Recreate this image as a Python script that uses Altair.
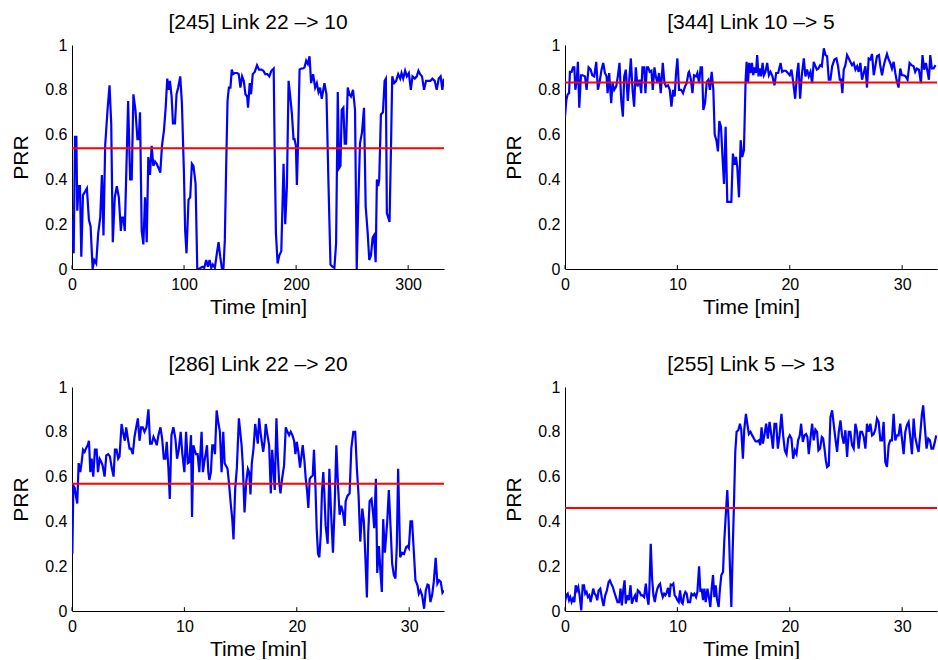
import altair as alt
import pandas as pd

FONT = "Liberation Sans"

titles = ["[245] Link 22 –> 10", "[344] Link 10 –> 5", "[286] Link 22 –> 20", "[255] Link 5 –> 13"]
means = [0.539, 0.833, 0.568, 0.46]
x_max = [332, 33.1, 33.1, 33.1]
x_ticks = [[0, 100, 200, 300], [0, 10, 20, 30], [0, 10, 20, 30], [0, 10, 20, 30]]
y_ticks = [0, 0.2, 0.4, 0.6, 0.8, 1]

# (time, PRR) samples
link_245 = [
    (0.3,0.22),(1.5,0.07),(2.7,0.59),(3.9,0.59),(4.7,0.26),(5.9,0.37),(7.1,0.37),(8.3,0.055),(9.8,0.33),(11.6,0.345),
    (13.3,0.36),(15.1,0.22),(16.6,0.19),(18.4,0.0),(19.9,0.04),(21.6,0.025),(23.4,0.16),(25.2,0.23),(26.7,0.42),(28.1,0.15),
    (29.6,0.55),(31.7,0.71),(33.5,0.82),(35.0,0.65),(36.4,0.12),(38.2,0.32),(40.0,0.37),(41.8,0.32),(43.6,0.17),(44.7,0.23),
    (45.9,0.23),(47.1,0.17),(48.3,0.40),(50.1,0.75),(51.9,0.40),(53.3,0.40),(54.8,0.78),(56.6,0.71),(58.4,0.58),(59.6,0.58),
    (60.7,0.70),(62.2,0.17),(63.7,0.11),(65.2,0.32),(66.7,0.12),(68.1,0.50),(69.6,0.42),(71.1,0.55),(72.6,0.46),(74.1,0.48),
    (75.6,0.47),(77.3,0.45),(78.8,0.43),(80.3,0.55),(82.1,0.62),(83.6,0.72),(85.0,0.85),(86.2,0.80),(87.4,0.84),(88.9,0.77),
    (90.1,0.65),(91.9,0.65),(93.3,0.78),(94.8,0.81),(96.6,0.86),(98.1,0.74),(99.9,0.43),(101.0,0.17),(102.2,0.07),(104.0,0.31),
    (105.5,0.32),(107.0,0.47),(108.4,0.46),
    (110.3,0.38),(111.8,0.0),(113.3,0.0),(116.3,0.01),(118.0,0.005),(119.8,0.04),(121.3,0.01),(122.8,0.04),(124.3,0.005),(125.7,0.02),
    (127.5,0.005),(129.3,0.07),(130.8,0.12),(132.3,0.055),(133.7,0.005),(135.2,0.005),(136.4,0.13),(137.6,0.46),(138.8,0.75),(140.0,0.81),
    (141.4,0.81),(142.6,0.89),(143.8,0.87),(145.3,0.875),(147.4,0.875),(148.8,0.87),(150.3,0.81),(151.8,0.86),(153.3,0.84),(154.8,0.78),
    (156.3,0.77),(157.1,0.72),(158.6,0.83),(159.8,0.78),(161.3,0.87),(163.1,0.88),(165.1,0.91),(166.9,0.89),(169.0,0.89),(170.8,0.885),
    (172.5,0.87),(174.3,0.87),(176.1,0.86),(177.9,0.885),(180.0,0.895),(180.8,0.56),(182.0,0.16),(183.5,0.025),(185.0,0.06),(186.8,0.08),
    (188.8,0.47),(190.3,0.20),(191.8,0.37),(193.3,0.84),(194.8,0.77),(196.3,0.69),(197.7,0.58),(198.6,0.58),(199.8,0.55),(200.7,0.375),
    (201.6,0.53),(203.1,0.89),(204.5,0.895),(206.3,0.895),(207.5,0.90),(209.0,0.93),(210.5,0.915),(212.0,0.95),(213.4,0.83),(215.2,0.87),
    (217.0,0.81),(218.5,0.83),(220.0,0.79),(221.4,0.81),(222.9,0.76),
    (225.3,0.83),(227.1,0.78),(228.9,0.38),(230.7,0.02),(232.4,0.01),(234.2,0.005),(235.7,0.115),(237.2,0.79),(238.4,0.45),(239.6,0.46),
    (240.7,0.71),(242.2,0.72),(243.4,0.56),(244.6,0.56),(246.1,0.81),(247.6,0.78),(249.0,0.77),(250.8,0.80),(252.6,0.71),(254.1,0.0),
    (255.6,0.31),(257.0,0.56),(258.8,0.61),(260.6,0.72),(262.1,0.28),(263.9,0.16),(265.3,0.04),(266.8,0.06),(268.3,0.14),(269.5,0.15),
    (271.0,0.03),(272.1,0.40),(273.3,0.37),(274.2,0.40),(275.7,0.69),(277.5,0.70),(279.0,0.84),(280.1,0.85),(281.0,0.25),(282.2,0.23),
    (283.4,0.21),(284.6,0.52),(285.8,0.86),(287.6,0.83),(289.3,0.84),(291.1,0.87),(292.9,0.85),(294.1,0.875),(295.6,0.85),(297.3,0.885),
    (298.8,0.86),(300.6,0.875),(302.4,0.80),(303.9,0.86),(305.9,0.85),(307.7,0.86),(309.2,0.885),(310.7,0.87),(312.4,0.86),(314.2,0.80),
    (316.0,0.84),(317.8,0.84),(319.9,0.84),(321.6,0.85),(323.7,0.84),(325.5,0.80),(327.3,0.85),(329.0,0.86),(330.5,0.80),(331.8,0.85),
]

link_344 = [
    (0,0.68),(0.12,0.755),(0.24,0.78),(0.36,0.785),(0.44,0.88),(0.59,0.88),(0.71,0.90),(0.83,0.90),(0.92,0.80),(1.04,0.84),
    (1.15,0.925),(1.27,0.72),(1.42,0.865),(1.57,0.865),(1.78,0.86),(1.92,0.80),(2.10,0.90),(2.28,0.89),(2.43,0.865),(2.60,0.86),
    (2.78,0.925),(2.93,0.80),(3.08,0.835),(3.25,0.89),(3.40,0.92),(3.55,0.875),(3.70,0.86),(3.79,0.785),(3.93,0.875),(4.11,0.74),
    (4.23,0.83),(4.38,0.80),(4.56,0.815),(4.70,0.86),(4.85,0.92),(5.00,0.755),(5.15,0.68),(5.27,0.86),(5.41,0.89),(5.59,0.75),
    (5.74,0.86),(5.86,0.94),(6.01,0.80),(6.15,0.725),(6.30,0.90),(6.45,0.815),(6.63,0.845),(6.78,0.785),(6.89,0.90),(7.04,0.90),
    (7.16,0.785),(7.28,0.90),(7.40,0.90),(7.54,0.88),(7.69,0.885),(7.81,0.80),(7.96,0.90),(8.08,0.86),(8.22,0.83),(8.37,0.875),
    (8.52,0.785),(8.70,0.92),(8.85,0.83),(8.99,0.815),(9.17,0.82),(9.32,0.80),(9.47,0.725),(9.62,0.80),(9.76,0.77),(9.88,0.875),
    (10.0,0.94),(10.15,0.80),(10.33,0.80),(10.50,0.785),(10.68,0.815),(10.83,0.83),(10.98,0.875),
    (11.04,0.88),(11.19,0.85),(11.34,0.785),(11.48,0.865),(11.66,0.86),(11.78,0.875),(11.93,0.83),(12.07,0.90),(12.19,0.90),(12.31,0.71),
    (12.46,0.74),(12.61,0.835),(12.76,0.845),(12.90,0.80),(13.05,0.88),(13.20,0.80),(13.32,0.60),(13.47,0.575),(13.61,0.525),(13.73,0.66),
    (13.88,0.635),(14.03,0.485),(14.15,0.38),(14.29,0.635),(14.44,0.30),(14.62,0.30),(14.80,0.30),(14.94,0.515),(15.09,0.465),(15.21,0.50),
    (15.33,0.455),(15.48,0.32),(15.63,0.575),(15.77,0.50),(15.92,0.53),(16.07,0.845),(16.16,0.925),(16.28,0.83),(16.39,0.92),(16.51,0.875),
    (16.63,0.92),(16.75,0.865),(16.87,0.90),(16.99,0.875),(17.10,0.955),(17.22,0.86),(17.34,0.895),(17.46,0.86),(17.58,0.92),(17.70,0.865),
    (17.84,0.88),(17.99,0.92),(18.14,0.865),(18.29,0.88),(18.46,0.86),(18.64,0.82),(18.79,0.875),(18.97,0.875),(19.18,0.92),(19.32,0.88),
    (19.47,0.885),(19.65,0.885),(19.83,0.875),(20.0,0.865),(20.15,0.89),(20.30,0.835),(20.48,0.76),(20.65,0.875),(20.77,0.92),(20.92,0.76),
    (21.07,0.865),(21.25,0.94),(21.39,0.86),(21.54,0.89),(21.69,0.86),(21.84,0.88),(21.99,0.83),(22.13,0.925),
    (22.41,0.89),(22.55,0.895),(22.70,0.91),(22.85,0.905),(23.03,0.985),(23.18,0.955),(23.32,0.95),(23.47,0.845),(23.62,0.845),(23.77,0.905),
    (23.97,0.935),(24.15,0.94),(24.30,0.905),(24.45,0.845),(24.57,0.845),(24.68,0.785),(24.80,0.89),(24.95,0.91),(25.10,0.955),(25.25,0.94),
    (25.39,0.925),(25.54,0.91),(25.69,0.92),(25.84,0.89),(25.99,0.905),(26.13,0.88),(26.28,0.92),(26.43,0.845),(26.58,0.875),(26.73,0.905),
    (26.87,0.81),(27.02,0.94),(27.17,0.935),(27.32,0.96),(27.47,0.865),(27.61,0.905),(27.76,0.95),(27.94,0.955),(28.06,0.905),(28.21,0.865),
    (28.35,0.905),(28.50,0.935),(28.65,0.96),(28.80,0.935),(28.94,0.92),(29.09,0.895),(29.24,0.925),(29.39,0.875),(29.54,0.835),(29.68,0.81),
    (29.83,0.895),(29.98,0.865),(30.13,0.865),(30.31,0.86),(30.48,0.845),(30.66,0.92),(30.84,0.91),(31.02,0.905),(31.16,0.88),(31.31,0.895),
    (31.49,0.89),(31.67,0.83),(31.81,0.955),(31.96,0.89),(32.11,0.92),(32.26,0.88),(32.38,0.845),(32.50,0.955),(32.64,0.895),(32.79,0.895),
    (32.97,0.91),
]

link_286 = [
    (0.03,0.255),(0.12,0.56),(0.24,0.55),(0.36,0.51),(0.47,0.48),(0.59,0.66),(0.74,0.62),(0.86,0.665),(0.98,0.72),(1.12,0.71),
    (1.24,0.725),(1.39,0.74),(1.51,0.76),(1.63,0.62),(1.75,0.68),(1.89,0.60),(2.04,0.72),(2.19,0.72),(2.31,0.62),(2.46,0.68),
    (2.57,0.67),(2.72,0.65),(2.90,0.60),(3.05,0.695),(3.22,0.70),(3.37,0.69),(3.55,0.635),(3.70,0.60),(3.82,0.72),(3.96,0.72),
    (4.11,0.68),(4.23,0.69),(4.41,0.835),(4.53,0.80),(4.70,0.76),(4.82,0.82),(4.97,0.77),(5.12,0.725),(5.24,0.725),(5.41,0.70),
    (5.56,0.777),(5.71,0.82),(5.86,0.86),(6.01,0.76),(6.15,0.82),(6.30,0.82),(6.45,0.80),(6.63,0.82),(6.80,0.90),(6.95,0.747),
    (7.10,0.747),(7.25,0.777),(7.40,0.76),(7.54,0.74),(7.69,0.785),(7.87,0.82),(8.02,0.77),(8.17,0.68),(8.31,0.68),(8.43,0.755),
    (8.58,0.635),(8.70,0.50),(8.85,0.785),(9.02,0.82),(9.20,0.77),(9.35,0.68),(9.50,0.72),(9.67,0.80),(9.82,0.70),(10.0,0.62),
    (10.15,0.80),(10.30,0.66),(10.44,0.665),(10.59,0.785),(10.68,0.42),(10.80,0.74),(10.91,0.72),(11.03,0.70),(11.18,0.70),(11.33,0.62),
    (11.53,0.80),(11.65,0.62),(11.77,0.665),(11.89,0.70),(12.01,0.74),(12.13,0.62),(12.22,0.585),(12.36,0.62),(12.48,0.74),(12.60,0.74),
    (12.72,0.70),(12.87,0.895),(13.01,0.845),(13.16,0.80),(13.31,0.62),(13.46,0.80),(13.58,0.66),(13.69,0.65),(13.84,0.635),(13.99,0.56),
    (14.14,0.47),(14.26,0.41),(14.37,0.32),(14.52,0.545),(14.67,0.64),(14.85,0.86),(14.97,0.80),(15.09,0.74),(15.20,0.65),(15.35,0.44),
    (15.50,0.575),(15.65,0.635),(15.77,0.62),(15.88,0.52),(16.00,0.66),(16.15,0.725),(16.30,0.835),(16.42,0.79),(16.53,0.747),(16.65,0.86),
    (16.77,0.80),(16.89,0.755),(17.01,0.71),(17.13,0.755),(17.24,0.835),(17.39,0.785),(17.54,0.74),(17.69,0.525),(17.81,0.72),(17.93,0.635),
    (18.04,0.54),(18.19,0.86),(18.31,0.695),(18.43,0.575),(18.55,0.525),(18.69,0.59),(18.87,0.65),(19.02,0.82),(19.17,0.80),(19.32,0.785),
    (19.46,0.80),(19.61,0.785),(19.76,0.76),(19.88,0.70),(20.0,0.755),(20.14,0.71),(20.29,0.64),(20.41,0.69),(20.53,0.74),(20.68,0.67),
    (20.80,0.59),(20.91,0.54),(21.03,0.46),(21.15,0.59),(21.30,0.60),(21.42,0.605),(21.53,0.72),(21.65,0.575),(21.77,0.37),(21.89,0.255),
    (22.01,0.24),(22.13,0.34),(22.24,0.53),(22.36,0.62),(22.45,0.53),(22.57,0.38),(22.75,0.30),(22.90,0.635),(23.05,0.44),(23.22,0.26),
    (23.37,0.47),(23.52,0.74),(23.67,0.56),(23.81,0.43),(23.96,0.47),(24.11,0.44),(24.26,0.38),(24.35,0.49),(24.52,0.515),(24.70,0.525),
    (24.85,0.725),(25.03,0.80),(25.20,0.80),(25.35,0.635),(25.50,0.515),(25.65,0.31),(25.83,0.457),(25.97,0.40),(26.12,0.22),(26.24,0.06),
    (26.36,0.35),(26.48,0.49),(26.65,0.50),(26.80,0.43),(26.89,0.37),(27.04,0.59),(27.16,0.17),(27.31,0.29),(27.45,0.17),(27.57,0.085),
    (27.69,0.41),(27.84,0.26),(28.05,0.40),(28.19,0.54),(28.34,0.38),(28.49,0.21),(28.64,0.16),(28.78,0.145),(28.90,0.29),(29.02,0.635),
    (29.20,0.24),(29.38,0.26),(29.55,0.255),(29.73,0.285),(29.85,0.29),(29.97,0.28),(30.12,0.40),(30.26,0.40),(30.41,0.27),(30.56,0.137),
    (30.74,0.115),(30.86,0.077),(31.00,0.092),(31.15,0.07),(31.33,0.01),(31.48,0.092),(31.63,0.118),(31.74,0.115),(31.89,0.04),(32.04,0.07),
    (32.19,0.13),(32.36,0.237),(32.51,0.122),(32.66,0.137),(32.81,0.13),(32.96,0.082),(33.08,0.092),
]

link_255 = [
    (0,0.04),(0.12,0.07),(0.24,0.077),(0.36,0.048),(0.47,0.062),(0.59,0.04),(0.71,0.055),(0.83,0.04),(0.95,0.115),(1.07,0.092),
    (1.18,0.107),(1.30,0.07),(1.45,0.003),(1.57,0.115),(1.69,0.115),(1.80,0.077),(1.92,0.085),(2.04,0.062),(2.16,0.07),(2.28,0.04),
    (2.40,0.07),(2.51,0.10),(2.63,0.077),(2.75,0.07),(2.87,0.048),(2.99,0.092),(3.14,0.10),(3.28,0.058),(3.43,0.022),(3.58,0.07),
    (3.73,0.092),(3.88,0.13),(3.99,0.137),(4.11,0.122),(4.26,0.107),(4.38,0.085),(4.53,0.062),(4.67,0.04),(4.82,0.04),(4.94,0.10),
    (5.06,0.025),(5.18,0.092),(5.30,0.137),(5.41,0.033),(5.53,0.07),(5.68,0.048),(5.83,0.115),(5.95,0.033),(6.09,0.055),(6.24,0.07),
    (6.36,0.04),(6.48,0.092),(6.63,0.085),(6.78,0.07),(6.89,0.07),(7.04,0.062),(7.19,0.122),(7.31,0.062),(7.43,0.028),(7.51,0.10),
    (7.63,0.30),(7.75,0.145),(7.87,0.07),(7.99,0.04),(8.11,0.077),(8.22,0.10),(8.34,0.115),(8.46,0.122),(8.58,0.085),(8.70,0.062),
    (8.82,0.077),(8.93,0.07),(9.05,0.082),(9.17,0.103),(9.29,0.062),(9.41,0.118),(9.53,0.115),(9.64,0.122),(9.76,0.07),(9.88,0.062),
    (10.0,0.048),(10.12,0.04),(10.24,0.092),(10.36,0.04),(10.47,0.033),(10.59,0.07),(10.71,0.085),(10.83,0.077),(10.95,0.04),
    (11.13,0.04),(11.25,0.077),(11.39,0.07),(11.51,0.077),(11.66,0.062),(11.78,0.085),(11.93,0.20),(12.05,0.085),(12.16,0.10),(12.28,0.048),
    (12.40,0.10),(12.52,0.04),(12.67,0.10),(12.78,0.07),(12.93,0.018),(13.05,0.10),(13.17,0.16),(13.29,0.062),(13.41,0.115),(13.52,0.055),
    (13.67,0.018),(13.79,0.10),(13.91,0.16),(14.06,0.174),(14.18,0.32),(14.32,0.44),(14.44,0.54),(14.56,0.40),(14.68,0.19),(14.80,0.018),
    (14.91,0.25),(15.03,0.47),(15.15,0.71),(15.27,0.80),(15.42,0.807),(15.57,0.836),(15.68,0.81),(15.83,0.68),(15.95,0.81),(16.10,0.88),
    (16.22,0.836),(16.36,0.79),(16.51,0.80),(16.66,0.784),(16.81,0.77),(16.96,0.757),(17.10,0.757),(17.25,0.762),(17.37,0.74),(17.49,0.82),
    (17.61,0.747),(17.76,0.79),(17.90,0.836),(18.05,0.77),(18.20,0.844),(18.35,0.79),(18.50,0.725),(18.64,0.836),(18.79,0.836),(18.94,0.725),
    (19.09,0.784),(19.26,0.88),(19.41,0.784),(19.56,0.717),(19.71,0.70),(19.86,0.77),(20.0,0.784),(20.15,0.77),(20.30,0.68),(20.45,0.717),
    (20.60,0.70),(20.74,0.762),(20.89,0.784),(21.01,0.836),(21.16,0.755),(21.31,0.784),(21.45,0.79),(21.57,0.777),(21.69,0.70),(21.84,0.77),
    (21.99,0.836),(22.13,0.762),(22.28,0.81),(22.43,0.80),(22.55,0.717),
    (22.70,0.725),(22.85,0.777),(22.97,0.77),(23.09,0.725),(23.21,0.672),(23.32,0.643),(23.47,0.65),(23.62,0.866),(23.77,0.896),(23.92,0.829),
    (24.06,0.77),(24.21,0.71),(24.36,0.80),(24.51,0.851),(24.65,0.784),(24.80,0.747),(24.95,0.807),(25.10,0.688),(25.25,0.80),(25.39,0.80),
    (25.54,0.74),(25.69,0.725),(25.84,0.836),(25.99,0.80),(26.13,0.725),(26.28,0.80),(26.43,0.80),(26.58,0.777),(26.73,0.725),(26.87,0.836),
    (27.02,0.80),(27.17,0.836),(27.32,0.784),(27.47,0.79),(27.61,0.81),(27.76,0.859),(27.91,0.844),(28.06,0.762),(28.21,0.762),(28.35,0.844),
    (28.50,0.665),(28.65,0.643),(28.80,0.74),(28.94,0.762),(29.09,0.762),(29.24,0.88),(29.39,0.762),(29.54,0.784),(29.68,0.784),(29.83,0.836),
    (29.98,0.77),(30.13,0.70),(30.28,0.80),(30.42,0.829),(30.57,0.844),(30.72,0.777),(30.87,0.70),(31.02,0.859),(31.16,0.777),(31.31,0.74),
    (31.46,0.71),(31.61,0.79),(31.76,0.88),(31.87,0.918),(32.02,0.82),(32.17,0.725),(32.32,0.77),(32.47,0.762),(32.61,0.725),(32.76,0.725),
    (32.91,0.755),(33.03,0.784),
]

series = [link_245, link_344, link_286, link_255]

W, H = 372, 224


def panel(i):
    df = pd.DataFrame(series[i], columns=["t", "prr"])
    xs = alt.Scale(domain=[0, x_max[i]], nice=False, zero=False)
    ys = alt.Scale(domain=[0, 1], nice=False)
    xaxis = alt.Axis(values=x_ticks[i], title="Time [min]", ticks=False, tickSize=0, labelPadding=7,
                     labelFlush=False, titlePadding=4, format="d")
    yaxis = alt.Axis(values=y_ticks, title="PRR", ticks=False, tickSize=0, labelPadding=5, format="~g",
                     minExtent=36, maxExtent=36, titlePadding=5, labelFlush=False)
    line = alt.Chart(df).mark_line(color="#0000ff", strokeWidth=2.2, clip=True).encode(
        x=alt.X("t:Q", scale=xs, axis=xaxis),
        y=alt.Y("prr:Q", scale=ys, axis=yaxis),
    )
    mean = alt.Chart(pd.DataFrame({"m": [means[i]]})).mark_rule(color="#ff0000", strokeWidth=2).encode(
        y=alt.Y("m:Q", scale=ys, axis=yaxis),
    )
    ticks = alt.Chart(pd.DataFrame({"v": x_ticks[i]})).mark_rule(color="black", strokeWidth=1).encode(
        x=alt.X("v:Q", scale=xs, axis=xaxis),
        y=alt.datum(0, scale=ys, axis=yaxis),
        y2=alt.datum(0.017),
    )
    return alt.layer(line, mean, ticks).properties(
        width=W, height=H,
        title=alt.Title(titles[i], fontSize=21, font=FONT, fontWeight="normal",
                        anchor="middle", frame="group", offset=4.5, color="black"),
    )


top = alt.hconcat(panel(0), panel(1), spacing=58)
bottom = alt.hconcat(panel(2), panel(3), spacing=58)
chart = alt.vconcat(top, bottom, spacing=36).properties(
    padding={"left": 10, "top": 11, "right": 0, "bottom": 0},
    background="white",
).configure_view(stroke=None).configure_axis(
    grid=False, domainColor="black", domainWidth=1,
    labelFont=FONT, labelFontSize=16, labelColor="black",
    titleFont=FONT, titleFontSize=21, titleFontWeight="normal", titleColor="black",
)

chart.save("out.html", embed_options={"renderer": "svg", "actions": False})
